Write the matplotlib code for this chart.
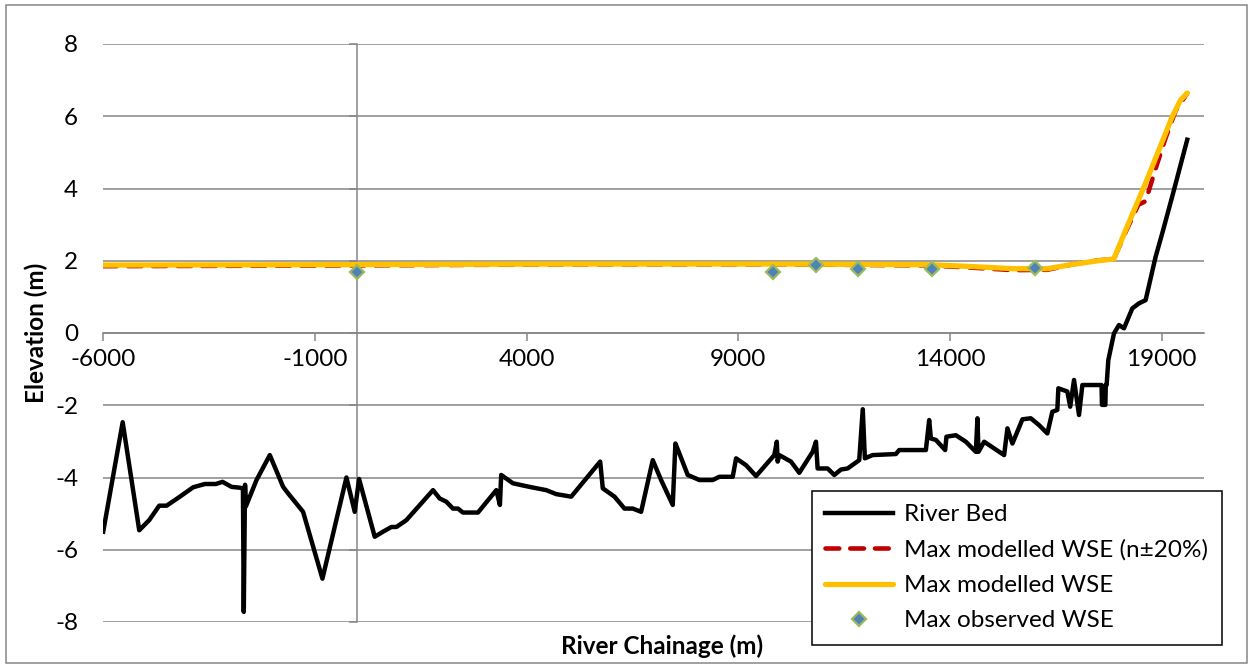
import matplotlib
matplotlib.use("Agg")
import matplotlib.pyplot as plt
from matplotlib.patches import Rectangle

# River bed profile (chainage m, elevation m)
bed_chainage = [
    -6000, -5540, -5149, -4913, -4677, -4502, -4188, -3874, -3598, -3339,
    -3181, -2968, -2789, -2700, -2680, -2650, -2630, -2379, -2065, -1750,
    -1632, -1279, -822, -255, -59, 43, 413, 610, 807, 925,
    1161, 1790, 1947, 2104, 2261, 2379, 2497, 2851, 3285, 3370,
    3400, 3677, 4070, 4464, 4700, 5054, 5738, 5800, 6076, 6312,
    6508, 6705, 6980, 7177, 7452, 7515, 7594, 7806, 8082, 8396,
    8554, 8869, 8948, 9184, 9420, 9851, 9910, 9930, 9969, 10245,
    10441, 10756, 10835, 10874, 11110, 11267, 11425, 11581, 11857, 11940,
    11990, 12171, 12723, 12801, 13431, 13509, 13549, 13667, 13886, 13917,
    14139, 14375, 14611, 14649, 14673, 14807, 15279, 15357, 15475, 15711,
    15908, 16104, 16300, 16418, 16536, 16560, 16772, 16840, 16930, 17048,
    17127, 17580, 17590, 17670, 17680, 17700, 17740, 17874, 17992, 18110,
    18306, 18463, 18621, 18857, 19014, 19250, 19604,
]
bed_elevation = [
    -5.50, -2.47, -5.46, -5.18, -4.78, -4.78, -4.53, -4.27, -4.18, -4.18,
    -4.12, -4.26, -4.28, -4.30, -7.72, -4.20, -4.80, -4.07, -3.38, -4.26,
    -4.44, -4.95, -6.80, -4.00, -4.95, -4.04, -5.64, -5.50, -5.37, -5.37,
    -5.18, -4.35, -4.58, -4.67, -4.86, -4.86, -4.97, -4.97, -4.35, -4.76,
    -3.93, -4.16, -4.26, -4.35, -4.46, -4.53, -3.56, -4.30, -4.53, -4.86,
    -4.86, -4.95, -3.52, -4.07, -4.76, -3.06, -3.29, -3.93, -4.07, -4.07,
    -3.98, -3.98, -3.47, -3.66, -3.96, -3.38, -3.01, -3.56, -3.38, -3.56,
    -3.87, -3.29, -3.01, -3.75, -3.75, -3.93, -3.78, -3.75, -3.52, -2.11,
    -3.47, -3.38, -3.35, -3.24, -3.24, -2.41, -2.92, -2.96, -3.24, -2.87,
    -2.83, -3.01, -3.29, -2.36, -3.29, -3.01, -3.38, -2.64, -3.06, -2.39,
    -2.36, -2.55, -2.78, -2.18, -2.13, -1.53, -1.62, -2.04, -1.30, -2.27,
    -1.44, -1.44, -1.99, -1.99, -1.44, -1.44, -0.75, -0.01, 0.22, 0.13,
    0.68, 0.82, 0.91, 2.11, 2.76, 3.78, 5.35,
]

# Max modelled water surface elevation
wse_chainage = [-6000, -1000, 5000, 10000, 13500, 14500, 15500, 16300, 16900,
                17500, 17870, 18150, 18621, 18936, 19250, 19447, 19604]
wse_elevation = [1.88, 1.89, 1.91, 1.91, 1.89, 1.84, 1.78, 1.78, 1.90,
                 2.00, 2.05, 2.85, 4.15, 5.07, 5.99, 6.45, 6.64]

# Max modelled WSE with Manning's n +/- 20%
wse_n_chainage = [-6000, 0, 5000, 10000, 13500, 14500, 15500, 16300, 16900,
                  17500, 17870, 18150, 18450, 18621, 18857, 19093, 19329, 19604]
wse_n_elevation = [1.85, 1.87, 1.90, 1.90, 1.87, 1.81, 1.74, 1.75, 1.90,
                   2.01, 2.05, 2.80, 3.55, 3.65, 4.55, 5.40, 6.15, 6.64]

# Max observed water surface elevation
obs_chainage = [0, 9830, 10824, 11833, 13566, 16020]
obs_elevation = [1.68, 1.70, 1.87, 1.76, 1.76, 1.79]

x_ticks = [-6000, -1000, 4000, 9000, 14000, 19000]
y_ticks = [-8, -6, -4, -2, 0, 2, 4, 6, 8]

GRID = "#868686"
FONT_SIZE = 17.5


def main():
    plt.rcParams["font.family"] = ["Lato", "DejaVu Sans"]
    plt.rcParams["axes.unicode_minus"] = False

    fig = plt.figure(figsize=(12.53, 6.68), dpi=100)
    ax = fig.add_axes([103.2 / 1253, 46 / 668, 1100.8 / 1253, 578 / 668])

    # chart area border
    fig.patches.append(Rectangle((6 / 1253, 5 / 668), 1241 / 1253, 658 / 668,
                                 transform=fig.transFigure, fill=False,
                                 edgecolor=GRID, linewidth=1.1))

    ax.plot(bed_chainage, bed_elevation, color="black", linewidth=3.2,
            solid_joinstyle="round", label="River Bed", zorder=3)
    ax.plot(wse_n_chainage, wse_n_elevation, color="#C00000", linewidth=3.3,
            dashes=(3, 2.4), dash_capstyle="round",
            label="Max modelled WSE (n\u00b120%)", zorder=4)
    ax.plot(wse_chainage, wse_elevation, color="#FFC000", linewidth=3.8,
            solid_capstyle="round", label="Max modelled WSE", zorder=5)
    ax.plot(obs_chainage, obs_elevation, linestyle="none", marker="D",
            markersize=7.5, markerfacecolor="#4F81BD", markeredgecolor="#9BBB59",
            markeredgewidth=1.6, label="Max observed WSE", zorder=6)

    ax.set_xlim(-6000, 20000)
    ax.set_ylim(-8, 8)
    ax.set_xticks(x_ticks)
    ax.set_yticks(y_ticks)

    # axes cross at zero like the Excel original
    for side in ["top", "right"]:
        ax.spines[side].set_visible(False)
    for side in ["left", "bottom"]:
        ax.spines[side].set_position(("data", 0))
        ax.spines[side].set_color(GRID)
        ax.spines[side].set_linewidth(1.1)

    ax.yaxis.grid(True, color=GRID, linewidth=1.1)
    ax.set_axisbelow(True)
    ax.tick_params(axis="y", direction="out", length=6, width=1.1,
                   color=GRID, labelleft=False)
    ax.tick_params(axis="x", direction="out", length=5.5, width=1.1,
                   color=GRID, labelsize=FONT_SIZE, pad=6)

    # y tick labels sit at the left edge of the plot
    sec = ax.secondary_yaxis(0)
    sec.set_yticks(y_ticks)
    sec.spines["left"].set_visible(False)
    sec.tick_params(length=0, pad=18, labelsize=FONT_SIZE)
    sec.set_ylabel("Elevation (m)", fontsize=FONT_SIZE, fontweight="bold",
                   labelpad=5)

    ax.set_xlabel("River Chainage (m)", fontsize=FONT_SIZE, fontweight="bold")
    ax.xaxis.set_label_coords(0.508, -0.022)

    leg = ax.legend(loc="upper left", bbox_to_anchor=(812 / 1253, 1 - 491 / 668),
                    bbox_transform=fig.transFigure, borderaxespad=0,
                    fontsize=FONT_SIZE, frameon=True, fancybox=False,
                    framealpha=1, edgecolor="black", handlelength=2.8,
                    handletextpad=0.45, labelspacing=0.58, borderpad=0.55)
    leg.get_frame().set_linewidth(1.1)
    leg.set_zorder(10)

    fig.savefig("out.png", dpi=100)


main()
